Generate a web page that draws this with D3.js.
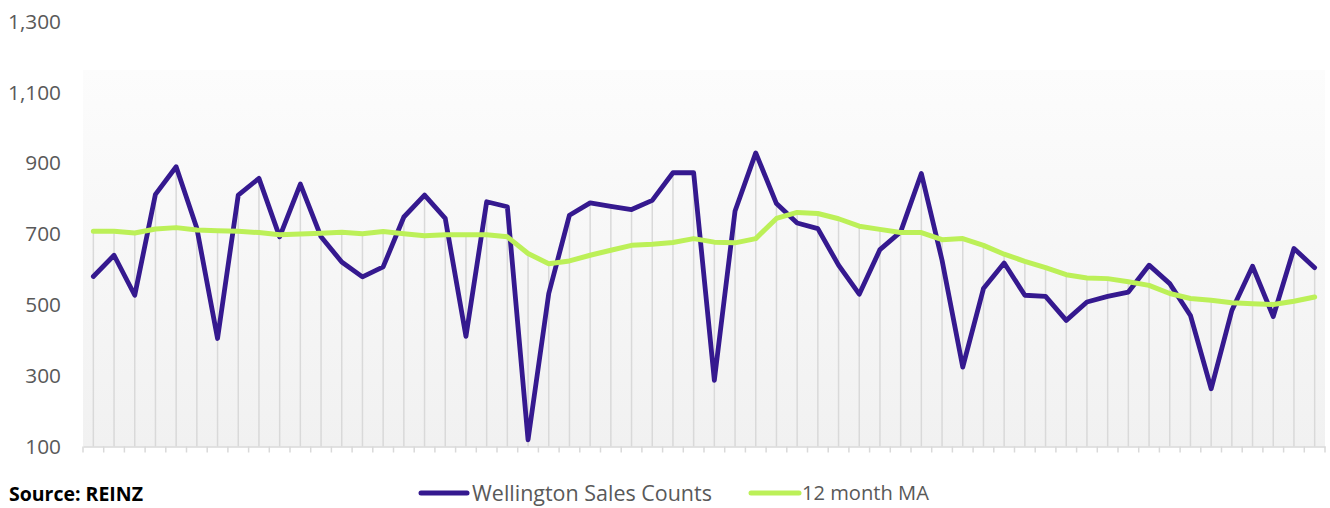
<!DOCTYPE html>
<html>
<head>
<meta charset="utf-8">
<script src="https://cdn.jsdelivr.net/npm/d3@7"></script>
<style>
  html, body { margin: 0; padding: 0; background: #ffffff; }
  svg { display: block; }
</style>
</head>
<body>
<svg id="chart" width="1330" height="508"></svg>
<script>
const salesCounts = [580, 640, 527, 812, 890, 716, 405, 810, 857, 692, 841, 692, 621, 579, 607, 748, 810, 744,
  411, 791, 777, 119, 532, 753, 788, 778, 769, 795, 873, 873, 287, 765, 929, 786, 731, 715,
  612, 530, 656, 706, 871, 626, 324, 546, 618, 527, 524, 456, 508, 524, 536, 612, 560, 470,
  263, 484, 609, 467, 659, 605];
const movingAvg = [708, 708, 703, 714, 718, 711, 709, 708, 704, 698, 700, 702, 705, 701, 707, 701, 695, 698,
  698, 698, 692, 645, 616, 624, 640, 654, 668, 671, 676, 687, 677, 675, 687, 744, 761, 758,
  743, 722, 713, 704, 704, 684, 687, 668, 643, 623, 605, 585, 576, 574, 565, 555, 532, 518,
  513, 506, 503, 501, 510, 522];
const months = d3.range(salesCounts.length);
const yTicks = [100, 300, 500, 700, 900, 1100, 1300];
const seriesNames = ["Wellington Sales Counts", "12 month MA"];
const seriesColors = ["#35198f", "#bcf058"];
const sourceText = "Source: REINZ";

const FONT = "'Open Sans', Lato, sans-serif";
const svg = d3.select("#chart");
const plot = { left: 83, right: 1325, top: 70, bottom: 446.5 };

function fitWidth(sel, target) {
  sel.each(function () {
    const fs = parseFloat(this.style.fontSize);
    const w = this.getComputedTextLength();
    if (w > 0) this.style.fontSize = (fs * target / w).toFixed(2) + "px";
  });
}

const x = d3.scaleBand().domain(months).range([plot.left, plot.right]).padding(0);
const y = d3.scaleLinear().domain([100, 1300]).range([446.5, 21.5]);

const defs = svg.append("defs");
const grad = defs.append("linearGradient").attr("id", "bg").attr("x1", 0).attr("y1", 0).attr("x2", 0).attr("y2", 1);
grad.append("stop").attr("offset", "0%").attr("stop-color", "#fcfcfc");
grad.append("stop").attr("offset", "100%").attr("stop-color", "#f1f1f1");

svg.append("rect")
  .attr("x", plot.left).attr("y", plot.top)
  .attr("width", plot.right - plot.left).attr("height", plot.bottom - plot.top)
  .attr("fill", "url(#bg)");

const cx = i => x(i) + x.bandwidth() / 2;
svg.append("g").selectAll("line").data(months).join("line")
  .attr("x1", d => cx(d)).attr("x2", d => cx(d))
  .attr("y1", d => y(Math.max(salesCounts[d], movingAvg[d])))
  .attr("y2", y(100))
  .attr("stroke", "#d9d9d9").attr("stroke-width", 1.5);

const xAxis = d3.axisBottom(x).tickSize(0).tickFormat("");
const gx = svg.append("g").attr("transform", `translate(0,${y(100)})`).call(xAxis);
gx.select(".domain").attr("stroke", "#d9d9d9").attr("stroke-width", 1.5);
const bounds = months.map(i => x(i)).concat([plot.right]);
gx.selectAll("line.bt").data(bounds).join("line").attr("class", "bt")
  .attr("x1", d => d).attr("x2", d => d).attr("y1", 0).attr("y2", 6)
  .attr("stroke", "#d9d9d9").attr("stroke-width", 1.5);

const yAxis = d3.axisLeft(y).tickValues(yTicks).tickSize(0).tickPadding(0).tickFormat(d3.format(","));
const gy = svg.append("g").attr("transform", "translate(61,0)").call(yAxis);
gy.select(".domain").remove();
const yText = gy.selectAll("text")
  .attr("fill", "#595959")
  .style("font-family", FONT)
  .style("font-size", "18px");
{
  const top = yText.filter(d => d === 1300).node();
  const w = top.getComputedTextLength();
  const fs = 18 * 53 / w;
  yText.style("font-size", fs.toFixed(2) + "px");
}

const line = d3.line().x((d, i) => cx(i)).y(d => y(d));
svg.append("path").datum(salesCounts).attr("d", line)
  .attr("fill", "none").attr("stroke", seriesColors[0]).attr("stroke-width", 4.8)
  .attr("stroke-linejoin", "round").attr("stroke-linecap", "round");
svg.append("path").datum(movingAvg).attr("d", line)
  .attr("fill", "none").attr("stroke", seriesColors[1]).attr("stroke-width", 5)
  .attr("stroke-linejoin", "round").attr("stroke-linecap", "round");

const legendItems = [
  { name: seriesNames[0], color: seriesColors[0], x0: 421, x1: 467, tx: 472, w: 240 },
  { name: seriesNames[1], color: seriesColors[1], x0: 751, x1: 799, tx: 802, w: 127 }
];
const lg = svg.append("g");
legendItems.forEach(it => {
  lg.append("line").attr("x1", it.x0).attr("x2", it.x1).attr("y1", 493).attr("y2", 493)
    .attr("stroke", it.color).attr("stroke-width", 5).attr("stroke-linecap", "round");
  const t = lg.append("text").attr("x", it.tx).attr("y", 493).attr("dy", "0.35em")
    .attr("fill", "#595959")
    .style("font-family", FONT).style("font-size", "18px")
    .text(it.name);
  fitWidth(t, it.w);
});

const src = svg.append("text").attr("x", 9).attr("y", 494).attr("dy", "0.35em")
  .attr("fill", "#000")
  .style("font-family", FONT).style("font-size", "17px").style("font-weight", "bold")
  .text(sourceText);
fitWidth(src, 134);
</script>
</body>
</html>
